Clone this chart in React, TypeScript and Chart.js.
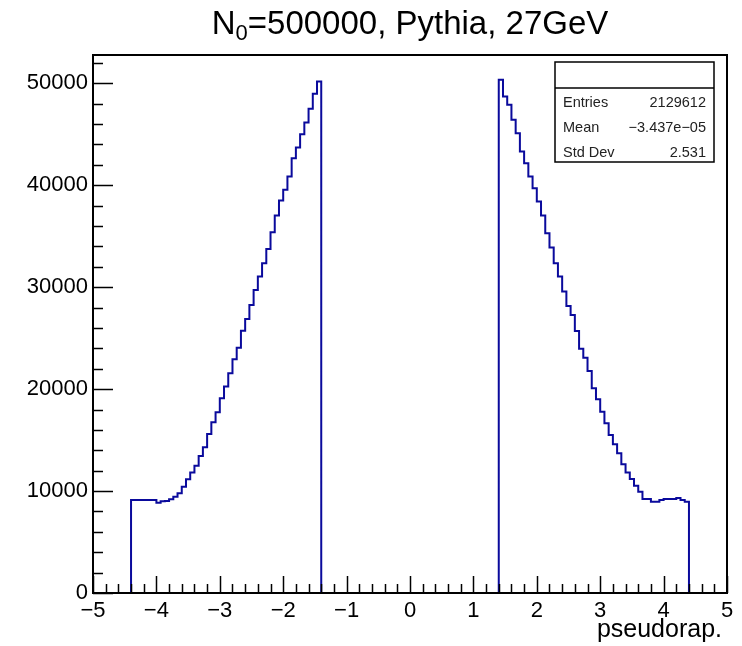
import React, { useEffect, useRef } from "react";
import { Chart, registerables } from "chart.js";

Chart.register(...registerables);

// Histogram binning (150 bins between -5 and 5)
const xMin = -5;
const xMax = 5;
const nBins = 150;
const binWidth = (xMax - xMin) / nBins;

// Filled region, negative side (first bin starts at -4.4)
const leftStart = -4.4;
const leftCounts = [
  9130, 9130, 9130, 9130, 9130, 9130, 8860, 9000, 9020, 9190,
  9450, 9780, 10430, 11150, 11810, 12490, 13440, 14300, 15600, 16750,
  17730, 19100, 20250, 21560, 22930, 24070, 25740, 26890, 28260, 29730,
  31040, 32350, 33760, 35400, 37030, 38500, 39550, 40860, 42660, 43700,
  45010, 46150, 47500, 48970, 50180,
];

// Filled region, positive side (first bin starts at 1.4)
const rightStart = 1.4;
const rightCounts = [
  50340, 48700, 47890, 46420, 45110, 43310, 42170, 40860, 39710, 38400,
  37030, 35300, 33890, 32350, 31040, 29570, 28160, 27280, 25710, 23950,
  23090, 21790, 20090, 19010, 17790, 16650, 15510, 14590, 13710, 12630,
  11810, 11190, 10530, 9940, 9220, 9220, 8960, 8960, 9120, 9220,
  9220, 9220, 9330, 9120, 8960,
];

const yMax = 52780;
const xTickValues = [-5, -4, -3, -2, -1, 0, 1, 2, 3, 4, 5];
const yTickValues = [0, 10000, 20000, 30000, 40000, 50000];
const xMajorStep = 1;
const xMinorStep = 0.2;
const yMajorStep = 10000;
const yMinorStep = 2000;

const titleMain = "N";
const titleSub = "0";
const titleRest = "=500000, Pythia, 27GeV";
const xAxisTitle = "pseudorap.";
const statsLabels = ["Entries", "Mean", "Std Dev"];
const statsValues = ["2129612", "\u22123.437e\u221205", "2.531"];

const FONT = '"Liberation Sans", Arial, Helvetica, sans-serif';
const LINE_COLOR = "#0a0a9c";

function buildPoints() {
  const pts: { x: number; y: number }[] = [{ x: xMin, y: 0 }];
  const addBlock = (start: number, counts: number[]) => {
    counts.forEach((c, i) => pts.push({ x: start + i * binWidth, y: c }));
    pts.push({ x: start + counts.length * binWidth, y: 0 });
  };
  addBlock(leftStart, leftCounts);
  addBlock(rightStart, rightCounts);
  pts.push({ x: xMax, y: 0 });
  return pts;
}

const fmtTick = (v: number) => (v < 0 ? "\u2212" + Math.abs(v) : String(v));

const rootDecor = {
  id: "rootDecor",
  afterDatasetsDraw(chart: any) {
    const { ctx, chartArea: a, scales } = chart;
    const xs = scales.x;
    const ys = scales.y;
    ctx.save();
    ctx.strokeStyle = "#000";
    ctx.lineWidth = 1.5;
    ctx.beginPath();
    const nx = Math.round((xMax - xMin) / xMinorStep);
    for (let i = 0; i <= nx; i++) {
      const v = xMin + i * xMinorStep;
      const px = Math.round(xs.getPixelForValue(v)) + 0.5;
      const major = Math.abs(v / xMajorStep - Math.round(v / xMajorStep)) < 1e-6;
      const len = major ? 17 : 9;
      ctx.moveTo(px, a.bottom);
      ctx.lineTo(px, a.bottom - len);
    }
    for (let v = 0; v <= yMax; v += yMinorStep) {
      const py = Math.round(ys.getPixelForValue(v)) + 0.5;
      const major = v % yMajorStep === 0;
      const len = major ? 20 : 10;
      ctx.moveTo(a.left, py);
      ctx.lineTo(a.left + len, py);
    }
    ctx.stroke();

    ctx.lineWidth = 2;
    ctx.strokeRect(a.left, a.top, a.right - a.left, a.bottom - a.top);

    // Title
    ctx.fillStyle = "#000";
    ctx.textBaseline = "alphabetic";
    ctx.textAlign = "left";
    const bigFont = `33px ${FONT}`;
    const subFont = `22px ${FONT}`;
    ctx.font = bigFont;
    const wN = ctx.measureText(titleMain).width;
    const wRest = ctx.measureText(titleRest).width;
    ctx.font = subFont;
    const wSub = ctx.measureText(titleSub).width;
    const total = wN + wSub + wRest;
    let tx = (a.left + a.right) / 2 - total / 2;
    const ty = 34;
    ctx.font = bigFont;
    ctx.fillText(titleMain, tx, ty);
    tx += wN;
    ctx.font = subFont;
    ctx.fillText(titleSub, tx, ty + 6);
    tx += wSub;
    ctx.font = bigFont;
    ctx.fillText(titleRest, tx, ty);

    // X axis title
    ctx.font = `25px ${FONT}`;
    ctx.textAlign = "right";
    ctx.fillText(xAxisTitle, a.right - 5, 637);

    // Stats box
    const bx = 555, by = 62, bw = 159, bh = 100;
    ctx.fillStyle = "#fff";
    ctx.fillRect(bx, by, bw, bh);
    ctx.lineWidth = 1.5;
    ctx.strokeStyle = "#000";
    ctx.strokeRect(bx, by, bw, bh);
    ctx.beginPath();
    ctx.moveTo(bx, by + 26);
    ctx.lineTo(bx + bw, by + 26);
    ctx.stroke();
    ctx.fillStyle = "#222";
    ctx.font = `14.5px ${FONT}`;
    ctx.textBaseline = "middle";
    statsLabels.forEach((lab, i) => {
      const yy = 103 + i * 25;
      ctx.textAlign = "left";
      ctx.fillText(lab, bx + 8, yy);
      ctx.textAlign = "right";
      ctx.fillText(statsValues[i], bx + bw - 8, yy);
    });
    ctx.restore();
  },
};

export default function App() {
  const ref = useRef<HTMLCanvasElement | null>(null);
  useEffect(() => {
    if (!ref.current) return;
    const chart = new Chart(ref.current, {
      type: "line",
      data: {
        datasets: [
          {
            data: buildPoints(),
            borderColor: LINE_COLOR,
            borderWidth: 2,
            stepped: "before",
            pointRadius: 0,
            fill: false,
            tension: 0,
          },
        ],
      },
      options: {
        responsive: false,
        animation: false,
        events: [],
        layout: { padding: { top: 55, right: 15, left: 0, bottom: 0 } },
        plugins: {
          legend: { display: false },
          title: { display: false },
          tooltip: { enabled: false },
        },
        scales: {
          x: {
            type: "linear",
            min: xMin,
            max: xMax,
            grid: { display: false, drawTicks: false },
            border: { display: false },
            afterBuildTicks: (s: any) => {
              s.ticks = xTickValues.map((v) => ({ value: v }));
            },
            ticks: {
              autoSkip: false,
              maxRotation: 0,
              padding: 5,
              color: "#000",
              font: { family: FONT, size: 22 },
              callback: (v: any) => fmtTick(Number(v)),
            },
            afterFit: (s: any) => {
              s.height = 53;
            },
          },
          y: {
            type: "linear",
            min: 0,
            max: yMax,
            grid: { display: false, drawTicks: false },
            border: { display: false },
            afterBuildTicks: (s: any) => {
              s.ticks = yTickValues.map((v) => ({ value: v }));
            },
            ticks: {
              autoSkip: false,
              padding: 5,
              color: "#000",
              font: { family: FONT, size: 22 },
              callback: (v: any) => String(v),
            },
            afterFit: (s: any) => {
              s.width = 93;
            },
          },
        },
      },
      plugins: [rootDecor],
    });
    return () => chart.destroy();
  }, []);
  return (
    <div style={{ position: "fixed", left: 0, top: 0, width: 742, height: 646, background: "#fff" }}>
      <canvas ref={ref} width={742} height={646} style={{ width: 742, height: 646, display: "block" }} />
    </div>
  );
}
